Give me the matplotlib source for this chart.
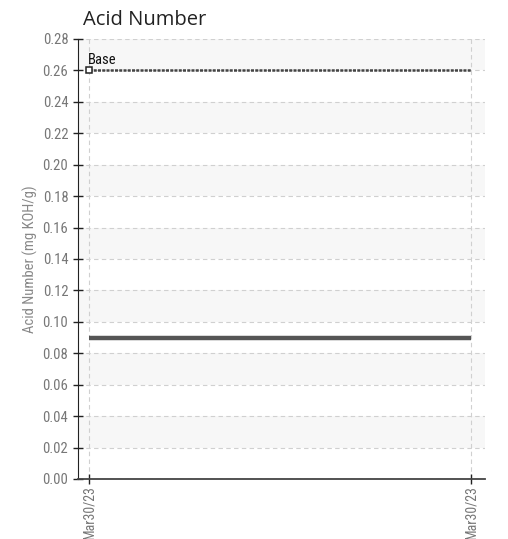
import numpy as np
import matplotlib
matplotlib.use("Agg")
import matplotlib.pyplot as plt

# data
dates = ["Mar30/23", "Mar30/23"]
x_pos = [0, 1]
acid_number = [0.09, 0.09]
base_value = 0.26
y_ticks = [0.00, 0.02, 0.04, 0.06, 0.08, 0.10, 0.12, 0.14, 0.16, 0.18, 0.20, 0.22, 0.24, 0.26, 0.28]

plt.rcParams['font.family'] = ['Roboto Condensed', 'DejaVu Sans']

fig = plt.figure(figsize=(5.08, 5.39), dpi=100)
ax = fig.add_axes([78/508, 1-479/539, (485-78)/508, (479-39)/539])

# alternating bands
for lo in y_ticks[1:-1:2]:
    ax.axhspan(lo, lo + 0.02, color="#f7f7f7", zorder=0, lw=0)

ax.plot(x_pos, acid_number, color="#555555", lw=3.2, solid_capstyle="butt", zorder=3)
ax.plot(x_pos, [base_value, base_value], color="#444444", lw=1.8, ls=(0, (1.2, 0.5)), zorder=3)
ax.plot([x_pos[0]], [base_value], marker="s", ms=4.5, mfc="white", mec="#222222", mew=1.1, zorder=4)
ax.text(x_pos[0] - 0.002, base_value + 0.0025, "Base", fontsize=10.5, color="#111111", va="bottom", ha="left")

ax.set_xlim(-11/382, 1 + 14/382)
ax.set_ylim(0, 0.28)
ax.set_yticks(y_ticks)
ax.set_yticklabels(["%.2f" % v for v in y_ticks])
ax.set_xticks(x_pos)
ax.set_xticklabels(dates, rotation=90)

ax.grid(True, color="#d0d0d0", ls=(0, (4, 3)), lw=0.8)
ax.set_axisbelow(True)
for s in ["top", "right"]:
    ax.spines[s].set_visible(False)
ax.spines["left"].set_color("#222222")
ax.spines["bottom"].set_color("#444444")
ax.spines["bottom"].set_linewidth(1.3)
ax.tick_params(direction="inout", length=7, width=1, color="#222222", labelcolor="#777777", labelsize=10.5)
ax.tick_params(axis="x", pad=1, labelsize=10)

ax.set_ylabel("Acid Number (mg KOH/g)", color="#888888", fontsize=10.5, labelpad=3)
fig.text(83/508, 1-25/539, "Acid Number", fontsize=14.5, color="#222222", family=["Open Sans", "DejaVu Sans"])

fig.savefig("out.png", dpi=100)
